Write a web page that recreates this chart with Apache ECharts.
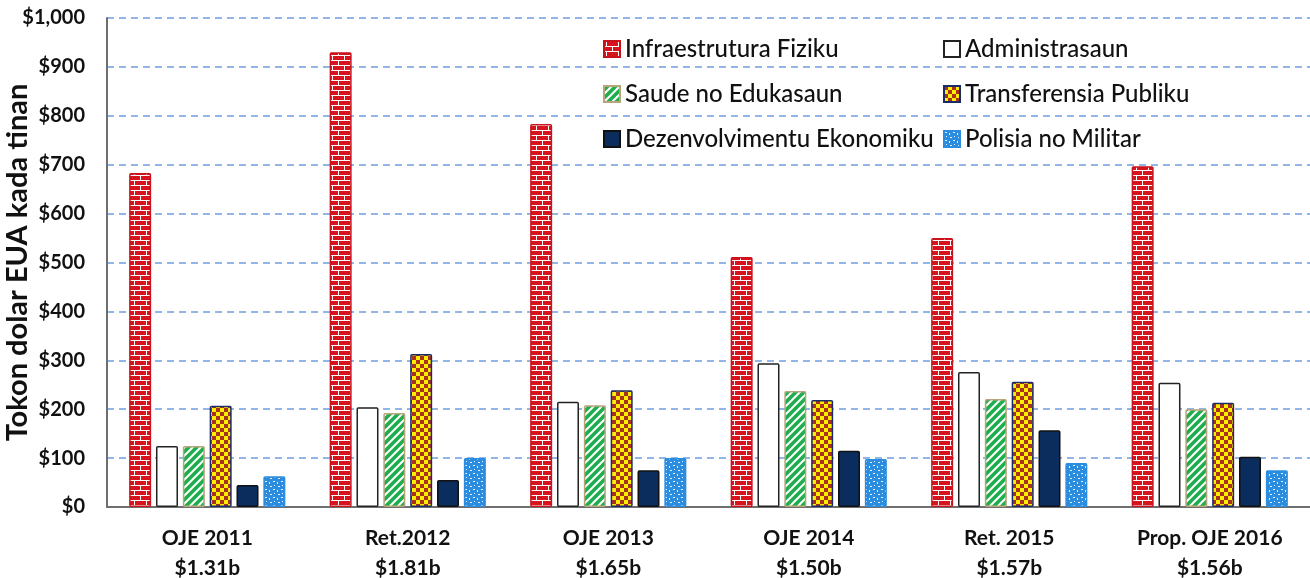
<!DOCTYPE html>
<html>
<head>
<meta charset="utf-8">
<script src="https://cdn.jsdelivr.net/npm/echarts@6/dist/echarts.min.js"></script>
<style>
html,body{margin:0;padding:0;background:#fff;}
#main{width:1310px;height:578px;}
</style>
</head>
<body>
<div id="main"></div>
<script>
// data
var categories = ['OJE 2011', 'Ret.2012', 'OJE 2013', 'OJE 2014', 'Ret. 2015', 'Prop. OJE 2016'];
var totals = ['$1.31b', '$1.81b', '$1.65b', '$1.50b', '$1.57b', '$1.56b'];
var seriesNames = ['Infraestrutura Fiziku', 'Administrasaun', 'Saude no Edukasaun', 'Transferensia Publiku', 'Dezenvolvimentu Ekonomiku', 'Polisia no Militar'];
var infra = [683, 930, 783, 511, 550, 697];
var admin = [125, 204, 215, 294, 276, 254];
var saude = [125, 192, 208, 237, 221, 200];
var transfer = [207, 313, 239, 219, 256, 213];
var dezen = [45, 55, 75, 115, 157, 103];
var polisia = [63, 100, 100, 98, 90, 75];

var FONT = 'Lato, "Open Sans", sans-serif';

// canvas patterns for bar fills
function brick() {
    var c = document.createElement('canvas');
    c.width = 12; c.height = 10;
    var g = c.getContext('2d');
    g.fillStyle = '#d7141d';
    g.fillRect(0, 0, 12, 10);
    g.fillStyle = '#ffffff';
    g.fillRect(0, 0, 12, 1);
    g.fillRect(0, 5, 12, 1);
    g.fillRect(2, 0, 1, 5);
    g.fillRect(8, 5, 1, 5);
    return c;
}
function stripes() {
    var c = document.createElement('canvas');
    c.width = 8; c.height = 8;
    var g = c.getContext('2d');
    g.fillStyle = '#1fae4e';
    g.fillRect(0, 0, 8, 8);
    g.strokeStyle = '#ffffff';
    g.lineWidth = 2;
    g.beginPath();
    g.moveTo(-2, 10); g.lineTo(10, -2);
    g.moveTo(-6, 6); g.lineTo(6, -6);
    g.moveTo(2, 14); g.lineTo(14, 2);
    g.stroke();
    return c;
}
function checker() {
    var c = document.createElement('canvas');
    c.width = 8; c.height = 8;
    var g = c.getContext('2d');
    g.fillStyle = '#ffee00';
    g.fillRect(0, 0, 8, 8);
    g.fillStyle = '#a8321c';
    g.fillRect(0, 0, 4, 4);
    g.fillRect(4, 4, 4, 4);
    return c;
}
function dots() {
    var c = document.createElement('canvas');
    c.width = 8; c.height = 8;
    var g = c.getContext('2d');
    g.fillStyle = '#2b8de0';
    g.fillRect(0, 0, 8, 8);
    g.fillStyle = '#e8f3ff';
    g.fillRect(1, 1, 2, 1);
    g.fillRect(5, 2, 1, 2);
    g.fillRect(2, 5, 1, 1);
    g.fillRect(6, 6, 2, 1);
    return c;
}

var fills = [
    {image: brick(), repeat: 'repeat'},
    '#ffffff',
    {image: stripes(), repeat: 'repeat'},
    {image: checker(), repeat: 'repeat'},
    '#0b2d5e',
    {image: dots(), repeat: 'repeat'}
];
var borders = ['#c9121b', '#222222', '#b9a57a', '#1a2a6a', '#111111', '#2b8de0'];
var values = [infra, admin, saude, transfer, dezen, polisia];

var series = [];
for (var i = 0; i < seriesNames.length; i++) {
    series.push({
        name: seriesNames[i],
        type: 'bar',
        data: values[i],
        barWidth: 22,
        barGap: '22%',
        itemStyle: {
            color: fills[i],
            borderColor: borders[i],
            borderWidth: 1.5,
            borderRadius: 1
        }
    });
}

var legendText = {fontFamily: FONT, fontSize: 24, lineHeight: 24, color: '#111', fontWeight: 500};

var myChart = echarts.init(document.getElementById('main'));
var option = {
    animation: false,
    backgroundColor: '#ffffff',
    grid: {left: 107, right: 0, top: 18, bottom: 71, outerBoundsMode: 'none'},
    legend: [
        {
            data: [seriesNames[0], seriesNames[2], seriesNames[4]],
            orient: 'vertical',
            left: 603, top: 37, padding: 0,
            icon: 'rect',
            itemWidth: 16, itemHeight: 16, itemGap: 21,
            textStyle: legendText
        },
        {
            data: [seriesNames[1], seriesNames[3], seriesNames[5]],
            orient: 'vertical',
            left: 943, top: 37, padding: 0,
            icon: 'rect',
            itemWidth: 16, itemHeight: 16, itemGap: 21,
            textStyle: legendText
        }
    ],
    xAxis: {
        type: 'category',
        data: categories,
        axisLine: {lineStyle: {color: '#6f6f6f', width: 2}},
        axisTick: {show: false},
        axisLabel: {
            interval: 0,
            margin: 16,
            lineHeight: 30,
            fontFamily: FONT,
            fontSize: 21,
            fontWeight: 'bold',
            color: '#111',
            formatter: function (v, idx) {
                return v + '\n' + totals[idx];
            }
        }
    },
    yAxis: {
        type: 'value',
        min: 0, max: 1000, interval: 100,
        name: 'Tokon dolar EUA kada tinan',
        nameLocation: 'middle',
        nameGap: 75,
        nameMoveOverlap: false,
        nameTextStyle: {fontFamily: FONT, fontSize: 29, fontWeight: 'bold', color: '#111'},
        axisLine: {show: true, lineStyle: {color: '#6f6f6f', width: 2}},
        axisTick: {show: false},
        splitLine: {lineStyle: {color: '#6f9ee0', type: [7, 5], width: 1.5}},
        axisLabel: {
            margin: 22,
            fontFamily: FONT,
            fontSize: 20,
            fontWeight: 'bold',
            color: '#111',
            formatter: function (v) {
                return '$' + v.toLocaleString('en-US');
            }
        }
    },
    series: series
};
myChart.setOption(option);
</script>
</body>
</html>
